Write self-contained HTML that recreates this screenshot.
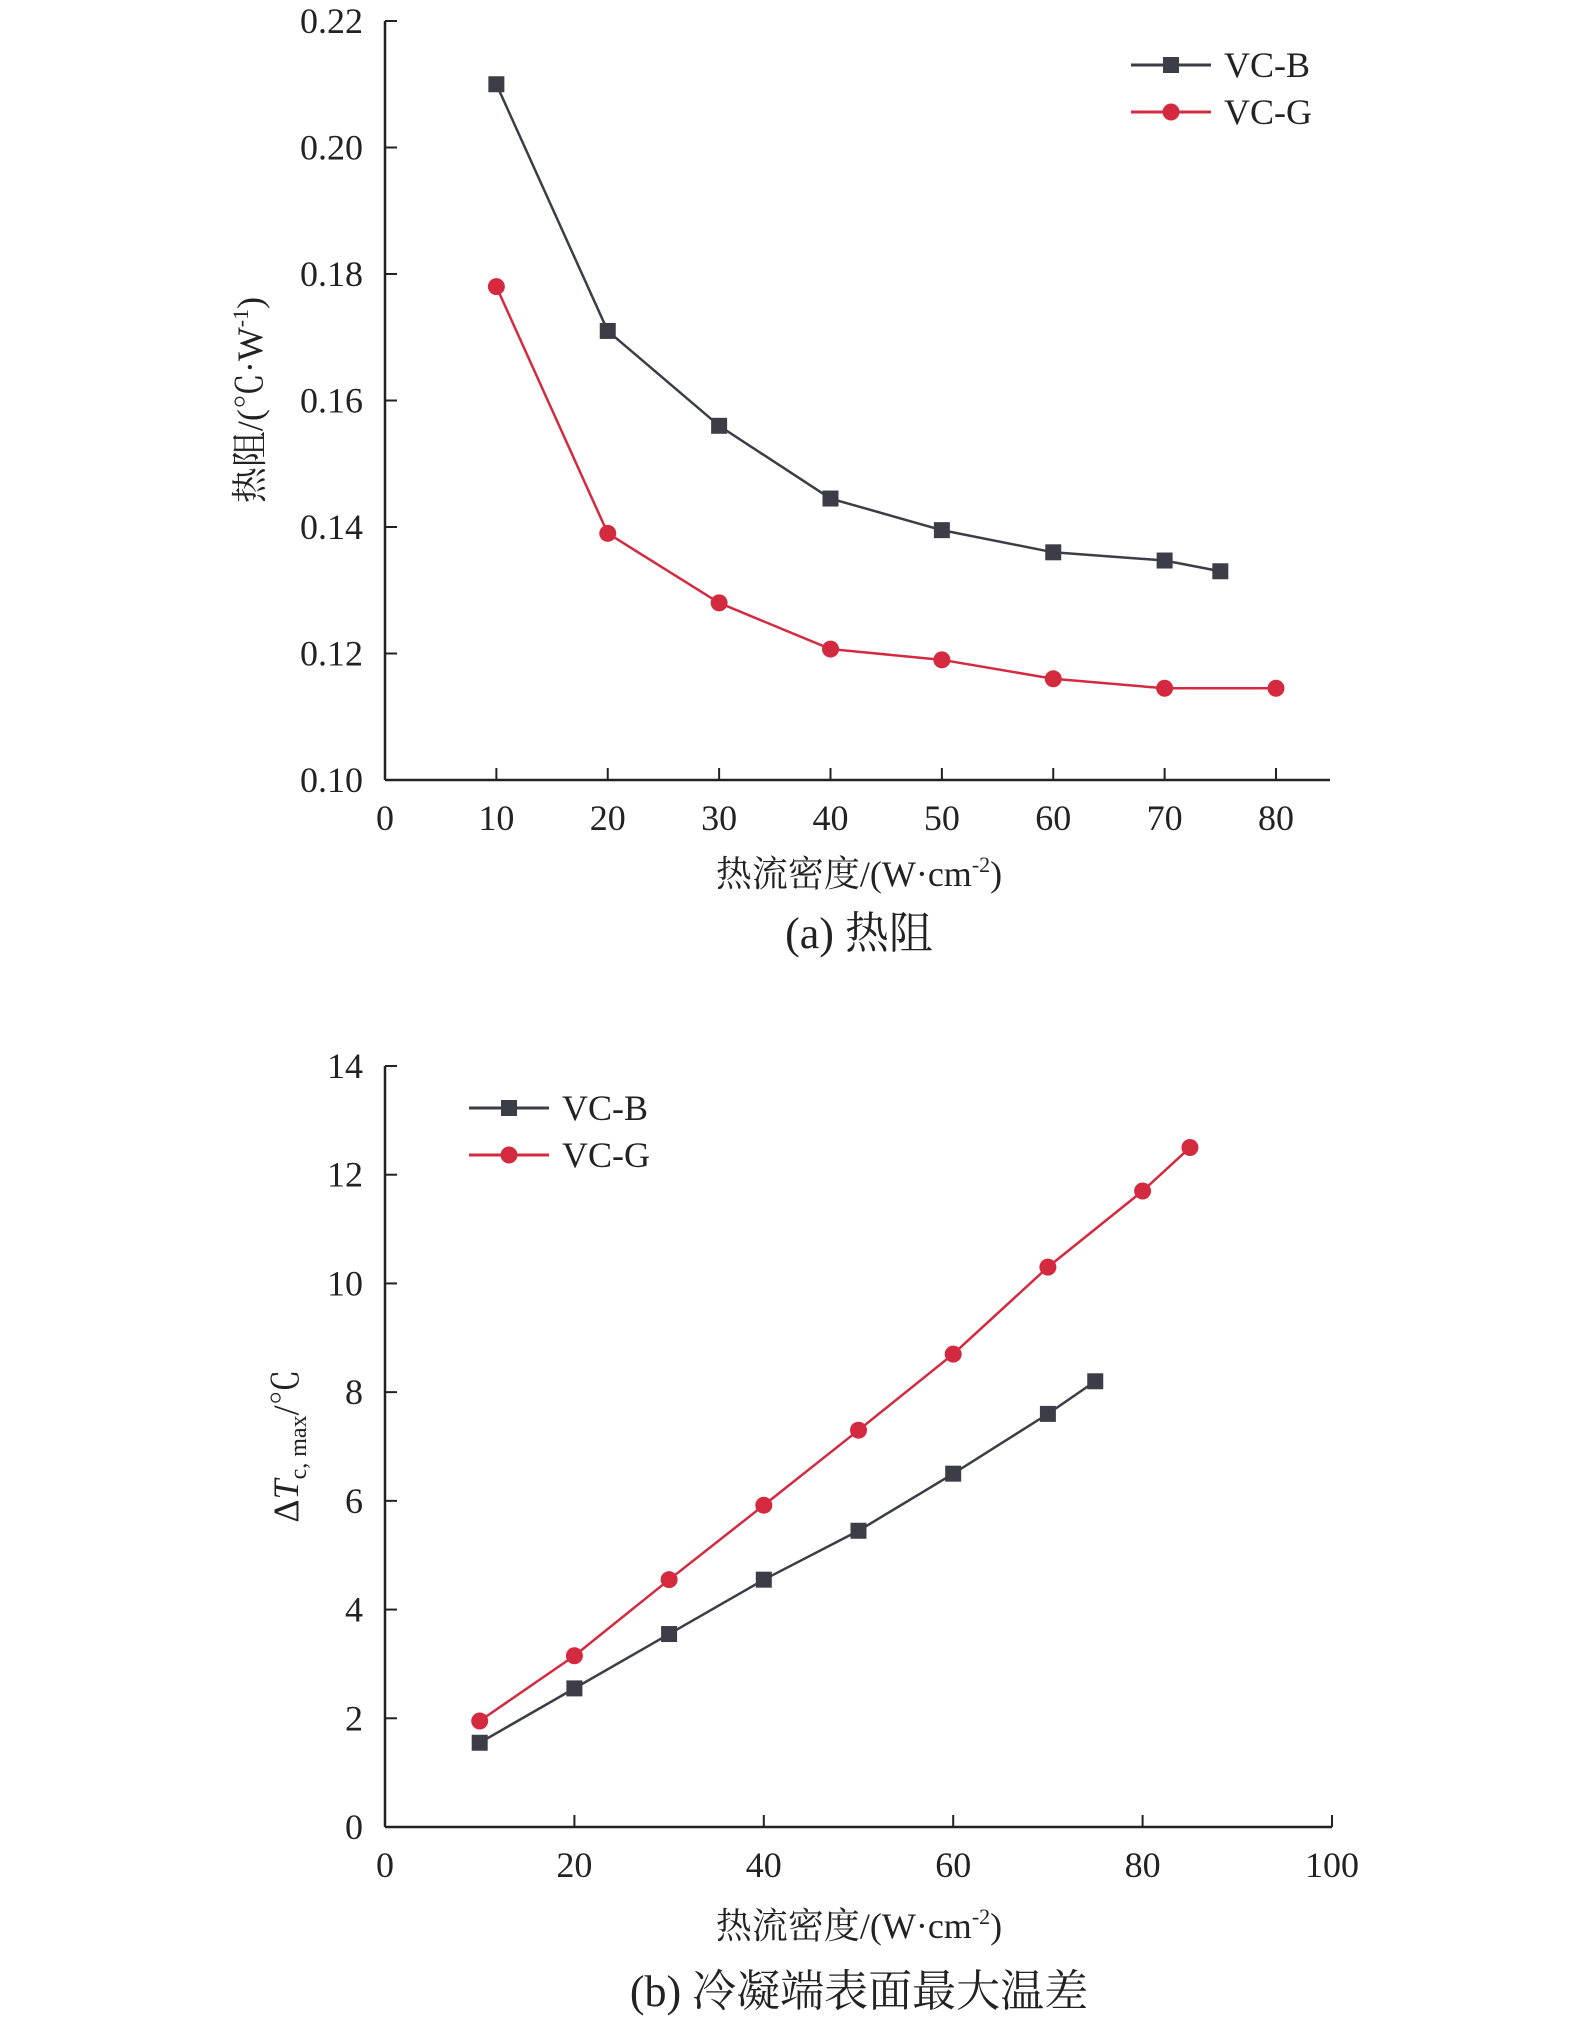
<!DOCTYPE html>
<html><head><meta charset="utf-8"><style>
body{margin:0;background:#fff}
svg text{font-family:"Liberation Serif","Noto Serif CJK SC",serif;fill:#222}
</style></head><body>
<svg id="c" width="1575" height="2022" xmlns="http://www.w3.org/2000/svg"></svg>
<script>
const aX=[10,20,30,40,50,60,70,75];
const aB=[0.210,0.171,0.156,0.1445,0.1395,0.136,0.1347,0.133];
const aXG=[10,20,30,40,50,60,70,80];
const aG=[0.178,0.139,0.128,0.1207,0.119,0.116,0.1145,0.1145];
const aXTicks=[0,10,20,30,40,50,60,70,80];
const aYTicks=[0.10,0.12,0.14,0.16,0.18,0.20,0.22];
const bX=[10,20,30,40,50,60,70,75];
const bB=[1.55,2.55,3.55,4.55,5.45,6.5,7.6,8.2];
const bXG=[10,20,30,40,50,60,70,80,85];
const bG=[1.95,3.15,4.55,5.92,7.3,8.7,10.3,11.7,12.5];
const bXTicks=[0,20,40,60,80,100];
const bYTicks=[0,2,4,6,8,10,12,14];
const svg=document.getElementById('c');const NS='http://www.w3.org/2000/svg';
function el(t,a,p){const e=document.createElementNS(NS,t);for(const k in a)e.setAttribute(k,a[k]);(p||svg).appendChild(e);return e;}
function txt(s,x,y,a,p){const e=el('text',Object.assign({x:x,y:y},a),p);e.innerHTML=s;return e;}
const BC='#3b3e46',GC='#d42a3f';
function chart(o){
 const g=el('g',{});
 const sx=v=>o.x0+(v-o.xmin)/(o.xmax-o.xmin)*(o.x1-o.x0);
 const sy=v=>o.y0-(v-o.ymin)/(o.ymax-o.ymin)*(o.y0-o.y1);
 el('line',{x1:o.x0,y1:o.y0,x2:o.xend,y2:o.y0,stroke:'#222','stroke-width':2.5},g);
 el('line',{x1:o.x0,y1:o.y0,x2:o.x0,y2:o.y1,stroke:'#222','stroke-width':2.5},g);
 o.xt.forEach(v=>{el('line',{x1:sx(v),y1:o.y0,x2:sx(v),y2:o.y0-12,stroke:'#222','stroke-width':2},g);
  const t=txt(String(v),sx(v),o.y0+50,{'text-anchor':'middle','font-size':36},g);});
 if(o.xendTick) el('line',{x1:o.xend,y1:o.y0,x2:o.xend,y2:o.y0-12,stroke:'#222','stroke-width':2},g);
 o.yt.forEach(v=>{el('line',{x1:o.x0,y1:sy(v),x2:o.x0+12,y2:sy(v),stroke:'#222','stroke-width':2},g);
  const t=txt(o.yf(v),o.x0-22,sy(v)+12,{'text-anchor':'end','font-size':36},g);});
 function series(xs,ys,c,m,name){
  const s=el('g',{},g);
  el('polyline',{points:xs.map((x,i)=>sx(x)+','+sy(ys[i])).join(' '),fill:'none',stroke:c,'stroke-width':2.5},s);
  xs.forEach((x,i)=>{if(m==='s')el('rect',{x:sx(x)-8,y:sy(ys[i])-8,width:16,height:16,fill:c},s);else el('circle',{cx:sx(x),cy:sy(ys[i]),r:8.5,fill:c},s);});
 }
 series(o.bx,o.by,BC,'s','series-vc-b');series(o.gx,o.gy,GC,'c','series-vc-g');
 const L=o.leg;const lg=el('g',{},g);
 el('line',{x1:L[0],y1:L[1],x2:L[0]+80,y2:L[1],stroke:BC,'stroke-width':3},lg);el('rect',{x:L[0]+32,y:L[1]-8,width:16,height:16,fill:BC},lg);
 txt('VC-B',L[0]+93,L[1]+12,{'font-size':36},lg);
 el('line',{x1:L[0],y1:L[1]+47,x2:L[0]+80,y2:L[1]+47,stroke:GC,'stroke-width':3},lg);el('circle',{cx:L[0]+40,cy:L[1]+47,r:8.5,fill:GC},lg);
 txt('VC-G',L[0]+93,L[1]+59,{'font-size':36},lg);
 const yt=txt(o.ytitle,0,0,{'text-anchor':'middle','font-size':36,transform:`translate(${o.ytx},${o.yty}) rotate(-90)`},g);
 const xt=txt('热流密度/(W·cm<tspan font-size="22" dy="-14">-2</tspan><tspan dy="14">)</tspan>',859,o.xty,{'text-anchor':'middle','font-size':36},g);
 const cp=txt(o.cap,859,o.capy,{'text-anchor':'middle','font-size':44},g);
}
chart({name:'chart-a-thermal-resistance',x0:385,x1:1276,xmin:0,xmax:80,xend:1330,y0:780,y1:21,ymin:0.10,ymax:0.22,
 xt:aXTicks,yt:aYTicks,yf:v=>v.toFixed(2),bx:aX,by:aB,gx:aXG,gy:aG,leg:[1131,65],
 ytitle:'热阻/(℃·W<tspan font-size="22" dy="-14">-1</tspan><tspan dy="14">)</tspan>',ytx:262,yty:400,xty:886,cap:'(a)  热阻',capy:948});
chart({name:'chart-b-max-temp-difference',x0:385,x1:1332,xmin:0,xmax:100,xend:1332,xendTick:true,y0:1827,y1:1066,ymin:0,ymax:14,
 xt:bXTicks,yt:bYTicks,yf:v=>String(v),bx:bX,by:bB,gx:bXG,gy:bG,leg:[469,1108],
 ytitle:'Δ<tspan font-style="italic">T</tspan><tspan font-size="24" dy="8">c, max</tspan><tspan dy="-8">/℃</tspan>',ytx:298,yty:1446,xty:1938,cap:'(b)  冷凝端表面最大温差',capy:2006});
</script>
</body></html>
